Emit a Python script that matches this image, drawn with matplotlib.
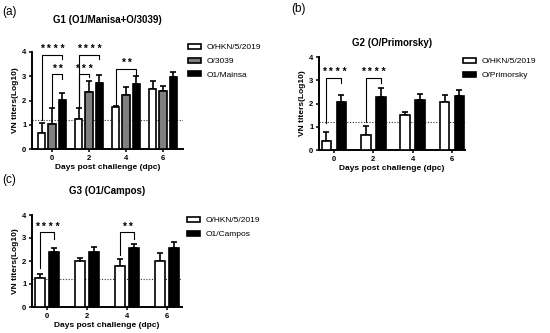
import matplotlib
matplotlib.use("Agg")
import matplotlib.pyplot as plt
import numpy as np

plt.rcParams['font.family'] = ['Liberation Sans', 'DejaVu Sans']

days = ["0", "2", "4", "6"]
cutoff = 1.2

# Panel (a)
a_labels = ["O/HKN/5/2019", "O/3039", "O1/Mainsa"]
a_means = [[0.66, 1.25, 1.72, 2.47],
           [1.04, 2.35, 2.21, 2.41],
           [2.03, 2.72, 2.68, 2.97]]
a_err = [[0.41, 0.44, 0.07, 0.32],
         [0.65, 0.44, 0.33, 0.17],
         [0.28, 0.35, 0.32, 0.21]]
# (group, left bar, right bar, height, label, left leg bottom, right leg bottom)
a_sig = [(0, 0, 2, 3.88, "****", 1.2, 3.7),
         (0, 1, 2, 3.09, "**", 1.73, 2.9),
         (1, 0, 2, 3.88, "****", 1.73, 3.7),
         (1, 0, 1, 3.09, "***", 1.73, 2.95),
         (2, 0, 2, 3.3, "**", 1.81, 3.02)]

# Panel (b)
b_labels = ["O/HKN/5/2019", "O/Primorsky"]
b_means = [[0.39, 0.63, 1.50, 2.07],
           [2.07, 2.26, 2.17, 2.32]]
b_err = [[0.39, 0.41, 0.14, 0.29],
         [0.29, 0.39, 0.26, 0.26]]
b_sig = [(0, 0, 1, 3.1, "****", 1.16, 2.88),
         (1, 0, 1, 3.1, "****", 1.2, 2.88)]

# Panel (c)
c_labels = ["O/HKN/5/2019", "O1/Campos"]
c_means = [[1.28, 1.99, 1.79, 1.99],
           [2.40, 2.40, 2.57, 2.57]]
c_err = [[0.17, 0.16, 0.28, 0.34],
         [0.17, 0.22, 0.16, 0.27]]
c_sig = [(0, 0, 1, 3.26, "****", 1.7, 2.96),
         (2, 0, 1, 3.26, "**", 2.26, 2.96)]

colors3 = ["white", "#808080", "black"]
colors2 = ["white", "black"]

W, H = 550, 333
fig = plt.figure(figsize=(W / 100, H / 100), dpi=100)


def box(l, r, t, b):
    return [l / W, 1 - b / H, (r - l) / W, (b - t) / H]


def panel(rect, means, errs, labels, colors, width, pitch, xlim, sig,
          title, title_y, letter, letter_xy, leg_xy):
    ax = fig.add_axes(box(*rect))
    n = len(means)
    x = np.arange(len(days))
    offs = (np.arange(n) - (n - 1) / 2) * pitch
    handles = []
    for i in range(n):
        bars = ax.bar(x + offs[i], means[i], width, color=colors[i],
                      edgecolor="black", linewidth=1.2, zorder=3,
                      label=labels[i])
        ax.errorbar(x + offs[i], means[i],
                    yerr=[np.zeros(len(days)), errs[i]], fmt="none",
                    ecolor="black", elinewidth=1.2, capsize=2.2,
                    capthick=1.2, zorder=2)
        handles.append(bars)
    ax.axhline(cutoff, color="#333333", linestyle=(0, (1, 1.5)),
               linewidth=0.8, zorder=1)
    for g, i, j, h, lab, lb, rb in sig:
        xl = x[g] + offs[i]
        xr = x[g] + offs[j]
        ax.plot([xl, xl, xr, xr], [lb, h, h, rb], color="black",
                linewidth=0.8, clip_on=False, zorder=4)
        ax.text((xl + xr) / 2, h + 0.02, " ".join(lab), ha="center",
                va="bottom", fontsize=7.5, fontweight="bold", clip_on=False)
    ax.set_xlim(*xlim)
    ax.set_ylim(0, 4)
    ax.set_yticks([0, 1, 2, 3, 4])
    ax.set_xticks(x)
    ax.set_xticklabels(days)
    for s in ["top", "right"]:
        ax.spines[s].set_visible(False)
    for s in ["left", "bottom"]:
        ax.spines[s].set_linewidth(1.4)
    ax.tick_params(axis="both", labelsize=5.5, width=1.1, length=2.5, pad=1.5)
    for t in ax.get_xticklabels() + ax.get_yticklabels():
        t.set_fontweight("bold")
    ax.set_ylabel("VN titers(Log10)", fontsize=6, fontweight="bold", labelpad=2)
    ax.set_xlabel("Days post challenge (dpc)", fontsize=6,
                  fontweight="bold", labelpad=2)
    cx = (rect[0] + rect[1]) / 2
    fig.text(cx / W, 1 - title_y / H, title, ha="center", va="center",
             fontsize=7, fontweight="bold")
    fig.text(letter_xy[0] / W, 1 - letter_xy[1] / H, letter, ha="left",
             va="center", fontsize=8.5)
    ax.legend(handles=handles, loc="upper left",
              bbox_to_anchor=(leg_xy[0] / W, 1 - leg_xy[1] / H),
              bbox_transform=fig.transFigure, frameon=False, fontsize=6,
              handlelength=1.6, handleheight=0.55, handletextpad=0.6,
              labelspacing=0.75, borderpad=0, borderaxespad=0)
    return ax


panel((32, 183, 52, 149), a_means, a_err, a_labels, colors3, 0.19, 0.28,
      (-0.54, 3.54), a_sig, "G1 (O1/Manisa+O/3039)", 20, "(a)", (2, 12),
      (188, 44))
panel((319, 465, 57, 150), b_means, b_err, b_labels, colors2, 0.25, 0.38,
      (-0.38, 3.33), b_sig, "G2 (O/Primorsky)", 43, "(b)", (291, 9),
      (463, 58))
panel((32, 182, 215, 307), c_means, c_err, c_labels, colors2, 0.24, 0.36,
      (-0.375, 3.375), c_sig, "G3 (O1/Campos)", 191, "(c)", (2, 180),
      (187, 217))

fig.savefig("out.png", dpi=100)
